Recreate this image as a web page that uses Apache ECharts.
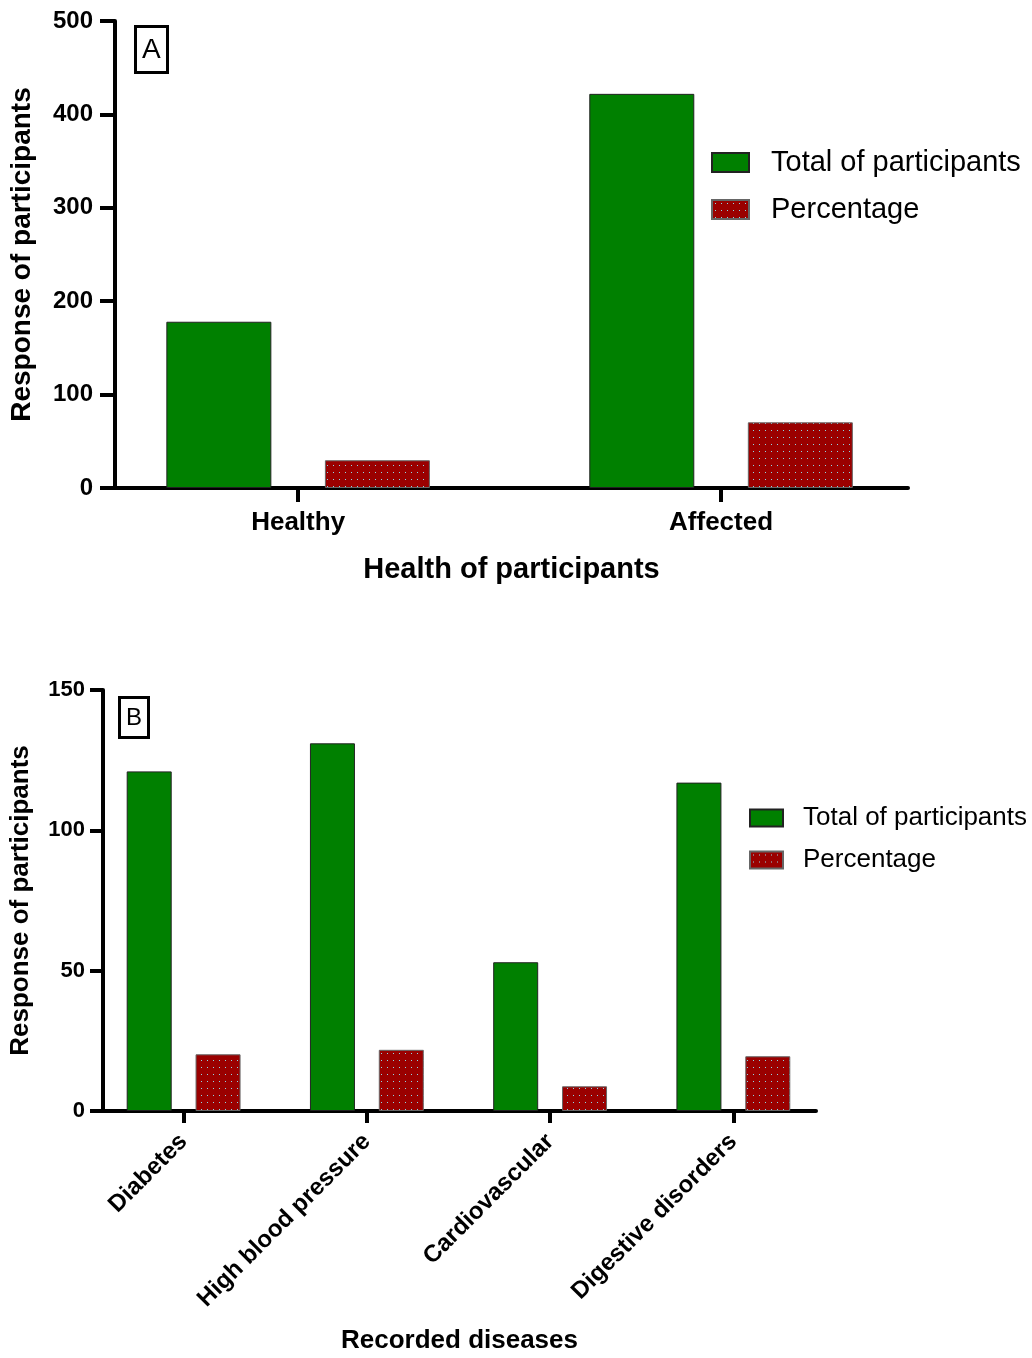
<!DOCTYPE html>
<html>
<head>
<meta charset="utf-8">
<script src="https://cdn.jsdelivr.net/npm/echarts@6/dist/echarts.min.js"></script>
<style>
  html, body { margin: 0; padding: 0; background: #fff; }
  #chart { width: 1032px; height: 1358px; }
</style>
</head>
<body>
<div id="chart"></div>
<script>
// Panel A
const healthCategories = ['Healthy', 'Affected'];
const healthTotals = [178, 422];
const healthPercent = [29.7, 70.3];
const healthTicks = [0, 100, 200, 300, 400, 500];

// Panel B
const diseaseCategories = ['Diabetes', 'High blood pressure', 'Cardiovascular', 'Digestive disorders'];
const diseaseTotals = [121, 131, 53, 117];
const diseasePercent = [20.2, 21.8, 8.8, 19.5];
const diseaseTicks = [0, 50, 100, 150];

const seriesNames = ['Total of participants', 'Percentage'];

const font = 'Arial, "Liberation Sans", sans-serif';

// dotted dark red fill
function makeDots() {
  const c = document.createElement('canvas');
  c.width = 6;
  c.height = 7;
  const ctx = c.getContext('2d');
  ctx.fillStyle = '#9a0000';
  ctx.fillRect(0, 0, 6, 7);
  ctx.fillStyle = '#8fd6e6';
  ctx.fillRect(3, 3, 1, 1);
  return c;
}
const dots = { image: makeDots(), repeat: 'repeat' };

const greenStyle = { color: '#008000', borderColor: '#222', borderWidth: 1 };
const redStyle = { color: dots, borderColor: '#666', borderWidth: 1 };

const toPairs = arr => arr.map((v, i) => [i, v]);
const idx = arr => arr.map((_, i) => i);

function xAxisCfg(gridIndex, cats, min, max, name, nameGap, nameSize, labelOpts, tickLen) {
  return {
    type: 'value',
    gridIndex: gridIndex,
    min: min,
    max: max,
    name: name,
    nameLocation: 'middle',
    nameGap: nameGap,
    nameTextStyle: { fontFamily: font, fontSize: nameSize, fontWeight: 'bold', color: '#000' },
    splitLine: { show: false },
    axisLine: { show: true, onZero: false, lineStyle: { color: '#000', width: 4 } },
    axisTick: { show: true, length: tickLen, customValues: idx(cats), lineStyle: { color: '#000', width: 4 } },
    axisLabel: Object.assign({
      customValues: idx(cats),
      formatter: v => cats[Math.round(v)],
      fontFamily: font,
      fontWeight: 'bold',
      color: '#000'
    }, labelOpts)
  };
}

function yAxisCfg(gridIndex, ticks, interval, name, nameGap, fontSize, nameSize, tickLen, margin) {
  return {
    type: 'value',
    gridIndex: gridIndex,
    min: ticks[0],
    max: ticks[ticks.length - 1],
    interval: interval,
    name: name,
    nameLocation: 'middle',
    nameGap: nameGap,
    nameTextStyle: { fontFamily: font, fontSize: nameSize, fontWeight: 'bold', color: '#000' },
    splitLine: { show: false },
    axisLine: { show: true, onZero: false, lineStyle: { color: '#000', width: 4 } },
    axisTick: { show: true, length: tickLen, lineStyle: { color: '#000', width: 4 } },
    axisLabel: { fontFamily: font, fontSize: fontSize, fontWeight: 'bold', color: '#000', margin: margin }
  };
}

const chart = echarts.init(document.getElementById('chart'));

chart.setOption({
  backgroundColor: '#fff',
  animation: false,
  title: [
    {
      text: 'A', left: 135, top: 26,
      borderColor: '#000', borderWidth: 3, padding: [10, 7, 9, 7],
      textStyle: { fontFamily: font, fontSize: 28, fontWeight: 'normal', color: '#000' }
    },
    {
      text: 'B', left: 119, top: 697,
      borderColor: '#000', borderWidth: 3, padding: [9, 7, 8, 7],
      textStyle: { fontFamily: font, fontSize: 24, fontWeight: 'normal', color: '#000' }
    }
  ],
  legend: [
    {
      data: seriesNames, orient: 'vertical', left: 711, top: 148, padding: 0,
      itemWidth: 37, itemHeight: 19, itemGap: 18, icon: 'rect',
      textStyle: { fontFamily: font, fontSize: 29, lineHeight: 29, color: '#000', padding: [0, 0, 0, 17] }
    },
    {
      data: seriesNames, orient: 'vertical', left: 749, top: 805, padding: 0,
      itemWidth: 33, itemHeight: 17, itemGap: 16, icon: 'rect',
      textStyle: { fontFamily: font, fontSize: 26, lineHeight: 26, color: '#000', padding: [0, 0, 0, 15] }
    }
  ],
  grid: [
    { left: 115, top: 21, width: 793, height: 467 },
    { left: 100, top: 690, width: 716, height: 421 }
  ],
  xAxis: [
    xAxisCfg(0, healthCategories, -0.433, 1.442, 'Health of participants', 67, 29,
      { fontSize: 26, margin: 22 }, 14),
    xAxisCfg(1, diseaseCategories, -0.44, 3.451, 'Recorded diseases', 217, 26,
      { fontSize: 24, margin: 27, rotate: 45 }, 12)
  ],
  yAxis: [
    yAxisCfg(0, healthTicks, 100, 'Response of participants', 79, 24, 28, 15, 22),
    yAxisCfg(1, diseaseTicks, 50, 'Response of participants', 69, 22, 26, 13, 18)
  ],
  series: [
    {
      name: seriesNames[0], type: 'bar', xAxisIndex: 0, yAxisIndex: 0,
      barWidth: 105, barGap: '51%', itemStyle: greenStyle, data: toPairs(healthTotals)
    },
    {
      name: seriesNames[1], type: 'bar', xAxisIndex: 0, yAxisIndex: 0,
      barWidth: 105, barGap: '51%', itemStyle: redStyle, data: toPairs(healthPercent)
    },
    {
      name: seriesNames[0], type: 'bar', xAxisIndex: 1, yAxisIndex: 1,
      barWidth: 45, barGap: '53%', itemStyle: greenStyle, data: toPairs(diseaseTotals)
    },
    {
      name: seriesNames[1], type: 'bar', xAxisIndex: 1, yAxisIndex: 1,
      barWidth: 45, barGap: '53%', itemStyle: redStyle, data: toPairs(diseasePercent)
    }
  ]
});
</script>
</body>
</html>
